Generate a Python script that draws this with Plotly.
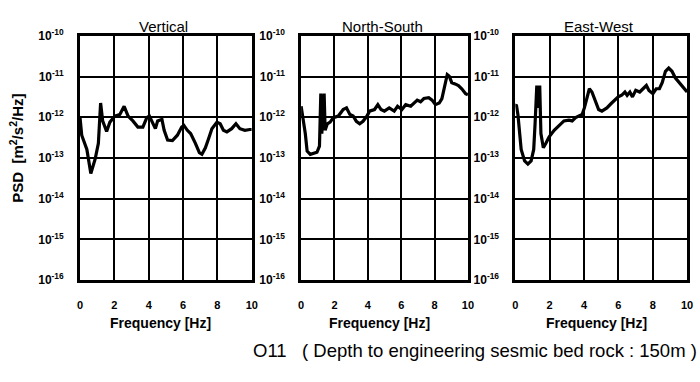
import plotly.graph_objects as go

W, H = 700, 382

# ---------------- data (PSD, stored as log10 exponent) -------------
vert_freq = [0.0, 0.1, 0.4, 0.63, 0.88, 1.07, 1.2, 1.32, 1.55, 1.74, 2.03, 2.32, 2.57, 2.8, 3.08,
             3.37, 3.66, 3.89, 4.04, 4.23, 4.39, 4.52, 4.77, 4.9, 5.1, 5.38, 5.67, 5.92, 6.05,
             6.25, 6.44, 6.72, 6.95, 7.1, 7.3, 7.49, 7.68, 7.97, 8.16, 8.35, 8.55, 8.83, 9.08,
             9.31, 9.6, 9.89, 10.0]
vert_log = [-12.0, -12.44, -12.79, -13.38, -13.03, -12.64, -11.65, -12.09, -12.35, -12.12, -11.97,
            -11.93, -11.73, -11.97, -12.09, -12.24, -12.24, -12.01, -11.97, -12.16, -12.28, -12.09,
            -12.05, -12.32, -12.56, -12.57, -12.44, -12.24, -12.2, -12.32, -12.4, -12.64, -12.87,
            -12.91, -12.75, -12.52, -12.28, -12.12, -12.16, -12.32, -12.36, -12.28, -12.16, -12.28,
            -12.32, -12.3, -12.3]

ns_freq = [0.0, 0.25, 0.36, 0.55, 0.95, 1.1, 1.18, 1.24, 1.38, 1.44, 1.57, 1.74, 1.93, 2.23, 2.52,
           2.72, 2.92, 3.12, 3.31, 3.51, 3.71, 3.95, 4.1, 4.4, 4.6, 4.79, 4.99, 5.28, 5.58, 5.78,
           6.04, 6.27, 6.57, 6.76, 6.96, 7.16, 7.36, 7.65, 7.85, 8.05, 8.28, 8.44, 8.6, 8.76,
           8.88, 9.03, 9.23, 9.43, 9.63, 9.86, 10.0]
ns_log = [-11.73, -12.4, -12.83, -12.91, -12.86, -12.71, -11.42, -12.4, -11.42, -12.32, -12.16,
          -12.12, -12.01, -11.97, -11.81, -11.77, -11.93, -11.97, -12.1, -12.16, -12.1, -11.97,
          -11.85, -11.81, -11.69, -11.81, -11.85, -11.77, -11.85, -11.73, -11.81, -11.69, -11.73,
          -11.65, -11.58, -11.62, -11.54, -11.52, -11.58, -11.69, -11.65, -11.54, -11.22, -10.95,
          -10.99, -11.15, -11.18, -11.22, -11.3, -11.42, -11.45]

ew_freq = [0.0, 0.06, 0.15, 0.25, 0.34, 0.54, 0.73, 0.92, 1.07, 1.15, 1.25, 1.34, 1.42, 1.49, 1.63,
           1.78, 1.97, 2.26, 2.55, 2.83, 3.12, 3.31, 3.51, 3.7, 3.89, 4.02, 4.18, 4.31, 4.46, 4.66,
           4.85, 5.04, 5.33, 5.61, 5.8, 5.99, 6.19, 6.38, 6.51, 6.67, 6.82, 7.01, 7.24, 7.43, 7.63,
           7.78, 8.01, 8.2, 8.39, 8.55, 8.74, 8.93, 9.12, 9.31, 9.54, 9.73, 9.92, 10.0]
ew_log = [-11.72, -11.69, -11.93, -12.4, -12.79, -13.07, -13.15, -13.07, -12.79, -12.16, -11.22,
          -11.77, -11.22, -12.4, -12.75, -12.64, -12.48, -12.32, -12.2, -12.09, -12.07, -12.09,
          -12.01, -11.97, -11.93, -11.77, -11.54, -11.3, -11.38, -11.62, -11.81, -11.85, -11.77,
          -11.65, -11.58, -11.5, -11.46, -11.38, -11.46, -11.38, -11.5, -11.34, -11.38, -11.3,
          -11.22, -11.34, -11.42, -11.3, -11.3, -11.15, -10.87, -10.79, -10.87, -11.03, -11.15,
          -11.22, -11.34, -11.38]

panel_titles = ["Vertical", "North-South", "East-West"]
x_ticks = [0, 2, 4, 6, 8, 10]
y_exps = [-10, -11, -12, -13, -14, -15, -16]
y_tick_text = ["10<sup>%d</sup>" % e for e in y_exps]
x_title = "Frequency [Hz]"
y_title = "PSD  [m<sup>2</sup>/s<sup>2</sup>/Hz]"
main_title = "O11   ( Depth to engineering sesmic bed rock : 150m )"

series = [(vert_freq, vert_log), (ns_freq, ns_log), (ew_freq, ew_log)]

# ---------------- layout geometry (pixels) ----------------
px_left = [78, 302, 519]
px_right = [252, 471, 693]
px_top, px_bot = 28, 283

FONT = "Liberation Sans, Arial, sans-serif"

fig = go.Figure()
layout = dict(
    width=W, height=H, margin=dict(l=0, r=0, t=0, b=0),
    paper_bgcolor="white", plot_bgcolor="white", showlegend=False,
    font=dict(family=FONT, color="black"),
)

annotations = []
for i, (fx, fl) in enumerate(series):
    n = "" if i == 0 else str(i + 1)
    fig.add_trace(go.Scatter(
        x=fx, y=[10 ** v for v in fl], mode="lines",
        line=dict(color="black", width=3.2),
        xaxis="x" + n, yaxis="y" + n, hoverinfo="skip",
    ))
    xd = [px_left[i] / W, px_right[i] / W]
    yd = [1 - px_bot / H, 1 - px_top / H]
    layout["xaxis" + n] = dict(
        domain=xd, range=[0, 10], tickvals=x_ticks, ticktext=[str(t) for t in x_ticks],
        showgrid=True, gridcolor="black", gridwidth=2.2, zeroline=False,
        showline=True, linecolor="black", linewidth=2.8, mirror=True,
        ticks="", ticklabelstandoff=13, anchor="y" + n,
        tickfont=dict(family=FONT, size=11, color="black", weight="bold"),
    )
    layout["yaxis" + n] = dict(
        domain=yd, type="log", range=[-16, -10],
        tickvals=[10 ** e for e in y_exps], ticktext=y_tick_text,
        showgrid=True, gridcolor="black", gridwidth=2.2, zeroline=False,
        showline=True, linecolor="black", linewidth=2.8, mirror=True,
        ticks="", ticklabelstandoff=11, anchor="x" + n,
        tickfont=dict(family=FONT, size=12, color="black", weight="bold"),
    )
    cx = (px_left[i] + px_right[i]) / 2
    annotations.append(dict(
        text=panel_titles[i], x=(cx - 2) / W, y=1 - 18 / H, xref="paper", yref="paper",
        showarrow=False, xanchor="center", yanchor="middle",
        font=dict(family=FONT, size=15, color="black"),
    ))
    annotations.append(dict(
        text=x_title, x=(cx - 5) / W, y=1 - 328 / H, xref="paper", yref="paper",
        showarrow=False, xanchor="center", yanchor="middle",
        font=dict(family=FONT, size=14, color="black", weight="bold"),
    ))

annotations.append(dict(
    text=y_title, x=14 / W, y=1 - 145 / H, xref="paper", yref="paper",
    showarrow=False, xanchor="center", yanchor="middle", textangle=-90,
    font=dict(family=FONT, size=15, color="black", weight="bold"),
))
annotations.append(dict(
    text=main_title, x=478 / W, y=1 - 356 / H, xref="paper", yref="paper",
    showarrow=False, xanchor="center", yanchor="middle",
    font=dict(family=FONT, size=18.5, color="black"),
))
layout["annotations"] = annotations

fig.update_layout(**layout)
fig.write_html("out.html")
